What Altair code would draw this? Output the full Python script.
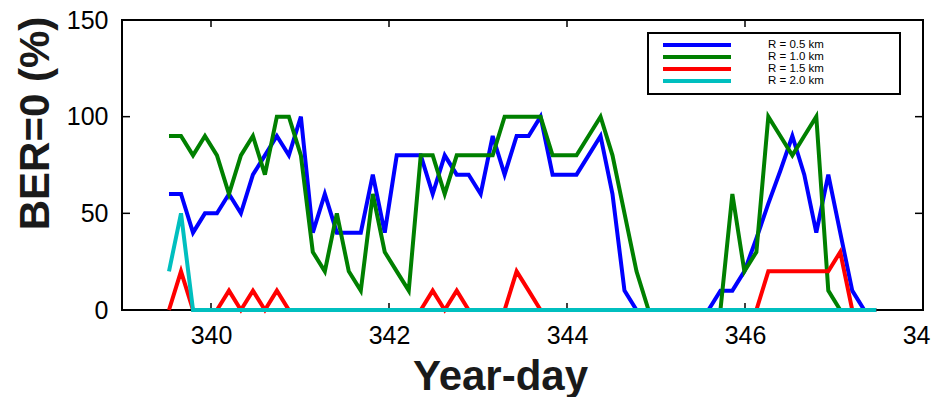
import altair as alt
import pandas as pd

# Year-day sample times
days = [339.528, 339.663, 339.798, 339.932, 340.067, 340.202, 340.336, 340.471, 340.606, 340.740,
        340.875, 341.010, 341.144, 341.279, 341.414, 341.548, 341.683, 341.818, 341.952, 342.087,
        342.222, 342.357, 342.491, 342.626, 342.761, 342.895, 343.030, 343.165, 343.299, 343.434,
        343.569, 343.703, 343.838, 343.973, 344.107, 344.242, 344.377, 344.511, 344.646, 344.781,
        344.916, 345.050, 345.185, 345.320, 345.454, 345.589, 345.724, 345.858, 345.993, 346.128,
        346.262, 346.397, 346.532, 346.666, 346.801, 346.936, 347.070, 347.205, 347.340, 347.474]

r05 = [60, 60, 40, 50, 50, 60, 50, 70, 80, 90,
       80, 100, 40, 60, 40, 40, 40, 70, 40, 80,
       80, 80, 60, 80, 70, 70, 60, 90, 70, 90,
       90, 100, 70, 70, 70, 80, 90, 60, 10, 0,
       0, 0, 0, 0, 0, 0, 10, 10, 20, 37,
       55, 72, 90, 70, 40, 70, 40, 10, 0, 0]

r10 = [90, 90, 80, 90, 80, 60, 80, 90, 70, 100,
       100, 80, 30, 20, 50, 20, 10, 60, 30, 20,
       10, 80, 80, 60, 80, 80, 80, 80, 100, 100,
       100, 100, 80, 80, 80, 90, 100, 80, 50, 20,
       0, 0, 0, 0, 0, 0, 0, 60, 20, 30,
       100, 90, 80, 90, 100, 10, 0, 0, 0, 0]

r15 = [0, 20, 0, 0, 0, 10, 0, 10, 0, 10,
       0, 0, 0, 0, 0, 0, 0, 0, 0, 0,
       0, 0, 10, 0, 10, 0, 0, 0, 0, 20,
       10, 0, 0, 0, 0, 0, 0, 0, 0, 0,
       0, 0, 0, 0, 0, 0, 0, 0, 0, 0,
       20, 20, 20, 20, 20, 20, 30, 0, 0, 0]

r20 = [20, 50, 0, 0, 0, 0, 0, 0, 0, 0,
       0, 0, 0, 0, 0, 0, 0, 0, 0, 0,
       0, 0, 0, 0, 0, 0, 0, 0, 0, 0,
       0, 0, 0, 0, 0, 0, 0, 0, 0, 0,
       0, 0, 0, 0, 0, 0, 0, 0, 0, 0,
       0, 0, 0, 0, 0, 0, 0, 0, 0, 0]

series_names = ["R = 0.5 km", "R = 1.0 km", "R = 1.5 km", "R = 2.0 km"]
series_colors = ["#0000FF", "#008000", "#FF0000", "#00BFBF"]
x_ticks = [340, 342, 344, 346, 348]
y_ticks = [0, 50, 100, 150]

rows = []
for name, vals in zip(series_names, [r05, r10, r15, r20]):
    for d, v in zip(days, vals):
        rows.append({"day": d, "ber": v, "series": name})
df = pd.DataFrame(rows)

W, H = 801, 290
FONT = "Liberation Sans"

x_scale = alt.Scale(domain=[339, 348], nice=False, zero=False)
y_scale = alt.Scale(domain=[0, 150], nice=False)
color_scale = alt.Scale(domain=series_names, range=series_colors)

x_axis = alt.Axis(values=x_ticks, format="d", grid=False, domain=False, ticks=False, tickSize=0,
                  labelFont=FONT, labelFontSize=25, labelColor="black", labelPadding=33,
                  labelBaseline="alphabetic", labelFlush=False, labelOverlap=False,
                  title="Year-day", titleFont=FONT, titleFontSize=42, titleFontWeight="bold",
                  titleColor="#1a1a1a", titleX=378, titleY=79, titleAlign="center",
                  titleBaseline="alphabetic")
y_axis = alt.Axis(values=y_ticks, format="d", grid=False, domain=False, ticks=False, tickSize=0,
                  labelFont=FONT, labelFontSize=25, labelColor="black", labelPadding=14,
                  labelFlush=False, labelOverlap=False,
                  title="BER=0 (%)", titleFont=FONT, titleFontSize=42, titleFontWeight="bold",
                  titleColor="#1a1a1a", titleX=-87, titleY=103, titleAngle=270,
                  titleAlign="center", titleBaseline="middle")

x_enc = alt.X("day:Q", scale=x_scale, axis=x_axis)
y_enc = alt.Y("ber:Q", scale=y_scale, axis=y_axis)

ytick_df = pd.DataFrame({"ber": y_ticks})
xtick_df = pd.DataFrame({"day": x_ticks})

left_ticks = alt.Chart(ytick_df).mark_rule(color="black", strokeWidth=1.5).encode(
    y=y_enc, x=alt.value(0), x2=alt.value(8))
right_ticks = alt.Chart(ytick_df).mark_rule(color="black", strokeWidth=1.5).encode(
    y=y_enc, x=alt.value(W - 8), x2=alt.value(W))
bottom_ticks = alt.Chart(xtick_df).mark_rule(color="black", strokeWidth=1.5).encode(
    x=x_enc, y=alt.value(H - 7), y2=alt.value(H))
top_ticks = alt.Chart(xtick_df).mark_rule(color="black", strokeWidth=1.5).encode(
    x=x_enc, y=alt.value(0), y2=alt.value(7))

legend_box = alt.Chart(pd.DataFrame({"k": [0]})).mark_rect(
    fill="white", stroke="black", strokeWidth=2).encode(
    x=alt.value(526), x2=alt.value(778), y=alt.value(13), y2=alt.value(74))

lines = alt.Chart(df).mark_line(strokeWidth=4).encode(
    x=x_enc,
    y=y_enc,
    color=alt.Color("series:N", scale=color_scale, sort=series_names, legend=None),
)

main = alt.layer(left_ticks, right_ticks, bottom_ticks, top_ticks, legend_box, lines)

# legend drawn from the series list (one row per series, in list order)
legend_df = pd.DataFrame({"series": series_names})
leg_y = alt.Y("entry:Q", scale=alt.Scale(domain=[1, 4], range=[25, 61], nice=False, zero=False),
              axis=None)
leg_base = alt.Chart(legend_df).transform_window(entry="row_number()")
leg_rules = leg_base.mark_rule(strokeWidth=4).encode(
    y=leg_y, x=alt.value(541), x2=alt.value(609),
    color=alt.Color("series:N", scale=color_scale, legend=None))
leg_text = leg_base.mark_text(
    align="left", baseline="middle", font=FONT, fontSize=11.5, color="black").encode(
    y=leg_y, x=alt.value(646), text="series:N")
leg = alt.layer(leg_rules, leg_text)

chart = alt.layer(main, leg).resolve_scale(y="independent").properties(
    width=W, height=H,
    autosize=alt.AutoSizeParams(type="none"),
    padding={"left": 114, "top": 12, "right": 8, "bottom": 87},
).configure_view(stroke="black", strokeWidth=2)

chart.save("out.html", embed_options={"renderer": "svg", "actions": False})
